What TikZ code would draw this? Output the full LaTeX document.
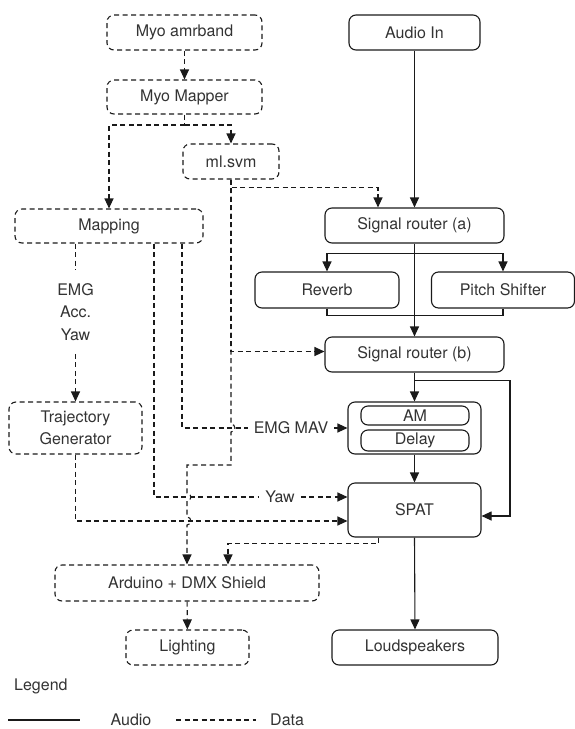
\documentclass[tikz,border=0pt]{standalone}
\usepackage{fontspec}
\setmainfont{TeX Gyre Heros}
\usetikzlibrary{arrows.meta,calc}
\definecolor{txt}{HTML}{333333}
\definecolor{ln}{HTML}{1a1a1a}
\begin{document}
\begin{tikzpicture}[x=1pt,y=-1pt,
  base/.style={rounded corners=7pt, line width=1.1pt, draw=ln, text=txt,
    font=\fontsize{16}{22.5}\selectfont, align=center, inner sep=0pt},
  abox/.style={base},
  dbox/.style={base, dash pattern=on 5pt off 3.5pt},
  audio/.style={line width=1.1pt, draw=ln},
  data/.style={line width=1.1pt, draw=ln, dash pattern=on 5pt off 3.5pt},
  tip/.style={-{Triangle[length=10pt,width=9pt]}},
  lbl/.style={text=txt, font=\fontsize{16}{22.5}\selectfont, align=center, inner sep=2pt}]
\useasboundingbox (0,0) rectangle (575,729);

% ---- data (left) nodes
\node[dbox, minimum width=155, minimum height=35] (myo) at (184.5,32.5) {Myo amrband};
\node[dbox, minimum width=155, minimum height=34] (mapper) at (184.5,97) {Myo Mapper};
\node[dbox, minimum width=96, minimum height=35] (svm) at (231,161.5) {ml.svm};
\node[dbox, minimum width=188, minimum height=34] (mapping) at (109,226) {Mapping};
\node[dbox, minimum width=133, minimum height=52] (traj) at (75.5,428) {Trajectory\\Generator};
\node[dbox, minimum width=264, minimum height=36] (arduino) at (187,583) {Arduino + DMX Shield};
\node[dbox, minimum width=123, minimum height=35] (lighting) at (187.5,647.5) {Lighting};

% ---- audio (right) nodes
\node[abox, minimum width=131, minimum height=35] (audioin) at (414.5,32.5) {Audio In};
\node[abox, minimum width=179, minimum height=35] (sra) at (414.5,225.5) {Signal router (a)};
\node[abox, minimum width=144, minimum height=36] (reverb) at (327,290) {Reverb};
\node[abox, minimum width=143, minimum height=36] (pitch) at (503,290) {Pitch Shifter};
\node[abox, minimum width=179, minimum height=35] (srb) at (414.5,354.5) {Signal router (b)};
\node[abox, minimum width=133, minimum height=52] (fx) at (414.5,428) {};
\node[abox, minimum width=108, minimum height=19] (am) at (415,415.5) {AM};
\node[abox, minimum width=108, minimum height=21] (delay) at (415,440.5) {Delay};
\node[abox, minimum width=133, minimum height=54] (spat) at (414.5,510) {SPAT};
\node[abox, minimum width=166, minimum height=35] (loud) at (415,647.5) {Loudspeakers};

% ---- labels on connectors
\node[lbl, inner ysep=13pt] (l1) at (75.5,312) {EMG\\Acc.\\Yaw};
\node[lbl, inner xsep=6pt] (mav) at (291,428) {EMG MAV};
\node[lbl, inner xsep=6pt] (yaw) at (280,497) {Yaw};

% ---- data connectors
\draw[data,tip] (myo) -- (mapper);
\coordinate (j1) at (184.5,125);
\draw[data] (mapper.south) -- (j1);
\draw[data,tip] (j1) -| (mapping.north);
\draw[data,tip] (j1) -| (svm.north);
\draw[data,tip] (svm.south) -- ++(0,8) -| ($(sra.north)+(-36.5,0)$);
\draw[data,tip] (svm.south) |- ($(srb.west)+(0,-3)$);
\draw[data,tip] (svm.south) -- (231,424)
   arc[start angle=90,end angle=-90,radius=4pt] -- (231,465) -- (187,465)
   -- (187,493) arc[start angle=90,end angle=-90,radius=4pt]
   -- (187,517) arc[start angle=90,end angle=-90,radius=4pt]
   -- (arduino.north);
\draw[data] (mapping.south -| traj.north) -- (l1.north);
\draw[data,tip] (l1.south) -- (traj.north);
\draw[data] ($(mapping.south)+(45,0)$) |- (yaw.west);
\draw[data,tip] (yaw.east) -- (spat.west |- yaw);
\draw[data] ($(mapping.south)+(73,0)$) |- (mav.west);
\draw[data,tip] (mav.east) -- (fx.west |- mav);
\draw[data,tip] (traj.south) |- ($(spat.west)+(0,11)$);
\draw[data,tip] ($(spat.south)+(-36,0)$) -- ++(0,6) -| ($(arduino.north)+(41,0)$);
\draw[data,tip] (arduino) -- (lighting);

% ---- audio connectors
\draw[audio,tip] (audioin) -- (sra);
\draw[audio,tip] (sra.south) -- (srb.north);
\draw[audio,tip] ($(sra.south)+(0,10)$) -| (reverb.north);
\draw[audio,tip] ($(sra.south)+(0,10)$) -| (pitch.north);
\draw[audio] (reverb.south) |- ($(pitch.south)+(0,7)$) -- (pitch.south);
\draw[audio,tip] (srb.south) -- (fx.north);
\draw[audio,tip] ($(srb.south)+(0,8)$) -- ++(95.5,0) |- ($(spat.east)+(0,6)$);
\draw[audio,tip] (fx.south) -- (spat.north);
\draw[audio,tip] (spat.south) -- (loud.north);

% ---- legend
\node[lbl, anchor=west, inner sep=0pt] (legend) at (14,686) {Legend};
\coordinate (la1) at (8,720);
\coordinate (la2) at (80,720);
\coordinate (ld1) at (176,720);
\coordinate (ld2) at (256,720);
\draw[audio] (la1) -- (la2);
\node[lbl] (laudio) at (131,720) {Audio};
\draw[data] (ld1) -- (ld2);
\node[lbl, anchor=west, inner sep=0pt] (ldata) at (270,720) {Data};
\end{tikzpicture}
\end{document}
